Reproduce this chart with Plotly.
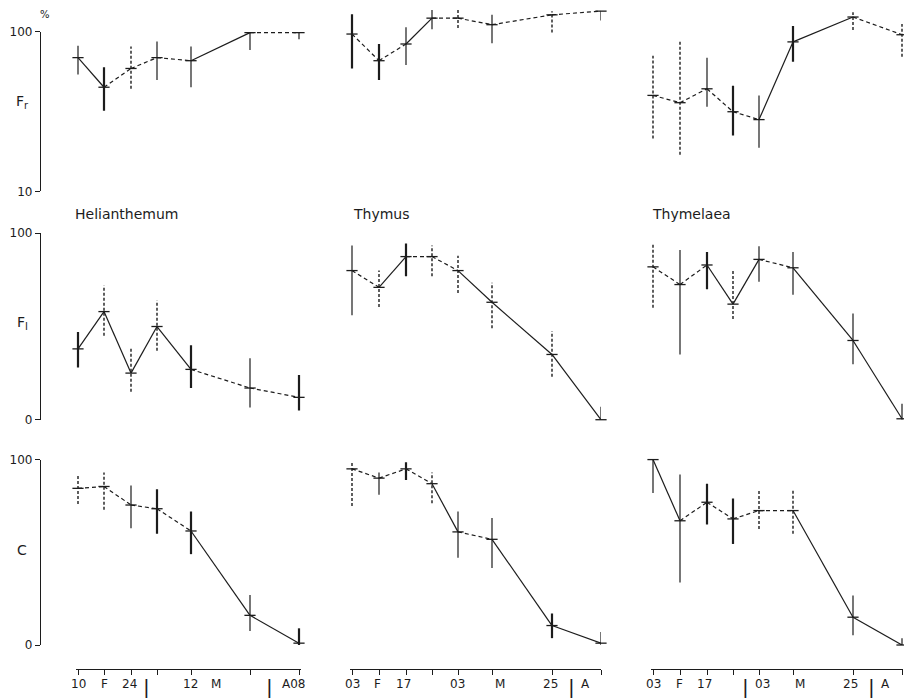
import plotly.graph_objects as go

W, H = 904, 698

# ---------------- data ----------------
# sampling positions along the time axis (axis units)
X_HELI = [0, 26, 53, 79, 113, 172, 221]
X_THYM = [0, 27, 54, 80, 106, 140, 200, 249]   # Thymus and Thymelaea share dates

# Helianthemum
FR_HELI = [69, 45, 59, 69, 66, 99, 99]
FR_HELI_HI = [82, 60, 81, 87, 81, 100, 99]
FR_HELI_LO = [54, 32, 44, 50, 45, 77, 90]
FI_HELI = [38, 58, 25, 50, 27, 17, 12]
FI_HELI_HI = [47, 72, 38, 64, 40, 33, 24]
FI_HELI_LO = [28, 45, 15, 37, 17, 6.5, 5]
C_HELI = [84.5, 85.5, 75.5, 73.5, 61.5, 16, 1]
C_HELI_HI = [92, 93, 86, 84, 72, 27, 9]
C_HELI_LO = [76, 73, 63, 60, 49, 7.5, 0]

# Thymus
FR_THYM = [97, 66, 84, 122, 122, 111, 128, 135]
FR_THYM_HI = [129, 84, 107, 137, 137, 128, 135, 135]
FR_THYM_LO = [59, 50, 62, 104, 106, 85, 99, 118]
FI_THYM = [80, 71, 87.5, 87.5, 80, 63, 35, 0]
FI_THYM_HI = [93.5, 80, 94.5, 93.5, 88, 73.5, 47.5, 7]
FI_THYM_LO = [56, 60.5, 77, 77, 68, 49, 23, 0]
C_THYM = [95, 90, 95, 87, 61, 57, 10.5, 1]
C_THYM_HI = [99, 93, 98.5, 93, 72, 68.5, 17, 7]
C_THYM_LO = [75, 81, 89, 76.5, 47, 41.5, 3.7, 0]

# Thymelaea
FR_THYL = [40, 36, 44, 31.6, 28.2, 86.6, 124, 96]
FR_THYL_HI = [71, 88, 69, 46, 40, 109, 133, 112]
FR_THYL_LO = [21.5, 17, 34, 22.4, 18.8, 65, 103, 70]
FI_THYL = [82, 72.5, 83, 62, 86, 81.5, 42.5, 0.5]
FI_THYL_HI = [94.5, 91, 90, 80, 93, 90, 57, 8.6]
FI_THYL_LO = [60, 35, 70, 54, 74, 67, 29.7, 0]
C_THYL = [100, 67, 77, 68, 72.5, 72.5, 15, 0]
C_THYL_HI = [100, 92, 87, 79, 83, 83.5, 26.7, 3.7]
C_THYL_LO = [82, 33.7, 65, 54.5, 62.6, 60, 5.3, 0]

# tick labels of the time axes
XLAB_HELI_POS = [0, 26, 51, 68, 112, 138, 191, 215]
XLAB_HELI_TXT = ["10", "F", "24", "|", "12", "M", "|", "A08"]
XLAB_THYM_POS = [0, 25, 51, 105, 148, 198, 219, 233]
XLAB_THYM_TXT = ["03", "F", "17", "03", "M", "25", "|", "A"]
XLAB_THYL_POS = [0, 26, 51, 92, 109, 147, 197, 218, 232]
XLAB_THYL_TXT = ["03", "F", "17", "|", "03", "M", "25", "|", "A"]

TAXA = ["Helianthemum", "Thymus", "Thymelaea"]
ROW_LABELS = ["F<sub>r</sub>", "F<sub>I</sub>", "C"]

# ---------------- styles (segment / error-bar line types) ----------------
SEG = {
    (0, 0): "sdddsd", (1, 0): "ssssdd", (2, 0): "ddddss",
    (0, 1): "ddsdddd", (1, 1): "dsddsss", (2, 1): "dddsdss",
    (0, 2): "ddddssd", (1, 2): "ddssdss", (2, 2): "sddddss",
}
EB = {
    (0, 0): "sSdssss", (1, 0): "SdddSsS", (2, 0): "ddsSSsS",
    (0, 1): "SSssdsds", (1, 1): "sdSdddds", (2, 1): "dsSdssSs",
    (0, 2): "ddsSsSdd", (1, 2): "dsSdssss", (2, 2): "ssSSddss",
}

INK = "#1c1c1c"
FONT = "DejaVu Sans"

SERIES = {
    (0, 0): (X_HELI, FR_HELI, FR_HELI_LO, FR_HELI_HI),
    (1, 0): (X_HELI, FI_HELI, FI_HELI_LO, FI_HELI_HI),
    (2, 0): (X_HELI, C_HELI, C_HELI_LO, C_HELI_HI),
    (0, 1): (X_THYM, FR_THYM, FR_THYM_LO, FR_THYM_HI),
    (1, 1): (X_THYM, FI_THYM, FI_THYM_LO, FI_THYM_HI),
    (2, 1): (X_THYM, C_THYM, C_THYM_LO, C_THYM_HI),
    (0, 2): (X_THYM, FR_THYL, FR_THYL_LO, FR_THYL_HI),
    (1, 2): (X_THYM, FI_THYL, FI_THYL_LO, FI_THYL_HI),
    (2, 2): (X_THYM, C_THYL, C_THYL_LO, C_THYL_HI),
}

# observed vertical mapping of the photographed page (offset, scale)
Y_OFF, Y_SCALE = 5.0, 0.983


def px_x(p):
    return p / W


def px_y(p):
    return 1 - ((p - Y_OFF) / Y_SCALE) / H


fig = go.Figure()


def ax_ids(k):
    return ("x" if k == 1 else f"x{k}"), ("y" if k == 1 else f"y{k}")


for (r, c), (xs, ys, lo, hi) in SERIES.items():
    k = r * 3 + c + 1
    xa, ya = ax_ids(k)
    seg = SEG[(r, c)]
    eb = EB[(r, c)]
    # connecting segments
    for style, dash in (("s", "solid"), ("d", "4px,3px")):
        sx, sy = [], []
        for i, s in enumerate(seg):
            if s == style:
                sx += [xs[i], xs[i + 1], None]
                sy += [ys[i], ys[i + 1], None]
        if sx:
            fig.add_trace(go.Scatter(x=sx, y=sy, mode="lines", xaxis=xa, yaxis=ya,
                                     line=dict(color=INK, width=1.2, dash=dash),
                                     hoverinfo="skip", showlegend=False))
    # error bars
    for style, width, dash in (("s", 1.2, "solid"), ("S", 2.2, "solid"), ("d", 1.4, "3px,2px")):
        ex, ey = [], []
        for i, s in enumerate(eb):
            if s == style:
                ex += [xs[i], xs[i], None]
                ey += [lo[i], hi[i], None]
        if ex:
            fig.add_trace(go.Scatter(x=ex, y=ey, mode="lines", xaxis=xa, yaxis=ya,
                                     line=dict(color=INK, width=width, dash=dash),
                                     hoverinfo="skip", showlegend=False))
    # point markers
    fig.add_trace(go.Scatter(x=xs, y=ys, mode="markers", xaxis=xa, yaxis=ya,
                             marker=dict(symbol="line-ew", size=8,
                                         line=dict(color=INK, width=1.3)),
                             cliponaxis=False, showlegend=False))

# ---------------- axes layout ----------------
COL_DOM = [(76, 301), (350, 601), (651, 903)]
COL_RANGE = [(-2, 223), (-2, 249), (-2, 250)]
XLABS = [(XLAB_HELI_POS, XLAB_HELI_TXT), (XLAB_THYM_POS, XLAB_THYM_TXT),
         (XLAB_THYL_POS, XLAB_THYL_TXT)]
XTICKS = [X_HELI, X_THYM, X_THYM]

layout = dict(width=W, height=H, autosize=False, paper_bgcolor="white", plot_bgcolor="white",
              margin=dict(l=0, r=0, t=0, b=0, pad=0), showlegend=False,
              font=dict(family=FONT, color=INK, size=11))
annotations = []

for r in range(3):
    for c in range(3):
        k = r * 3 + c + 1
        xkey = "xaxis" if k == 1 else f"xaxis{k}"
        ykey = "yaxis" if k == 1 else f"yaxis{k}"
        xa_, ya = ax_ids(k)
        d0, d1 = COL_DOM[c]
        xax = dict(domain=[px_x(d0), px_x(d1)], range=list(COL_RANGE[c]),
                   showgrid=False, zeroline=False, showticklabels=False, fixedrange=True)
        if r == 2:
            xax.update(anchor="free", position=px_y(669), showline=True, linecolor=INK,
                       linewidth=1.2, ticks="outside", ticklen=5, tickwidth=1.2,
                       tickcolor=INK, tickvals=XTICKS[c])
        else:
            xax.update(anchor=ya, showline=False, ticks="")
        layout[xkey] = xax

        if r == 0:
            top = 30 if c == 0 else 6
            yr = [1, 2] if c == 0 else [1, 2.15]
            yax = dict(type="log", range=yr, domain=[px_y(190), px_y(top)],
                       tickvals=[10, 100], ticktext=["10", "100"])
        elif r == 1:
            yax = dict(range=[0, 100], domain=[px_y(419), px_y(232)],
                       tickvals=[0, 100], ticktext=["0", "100"])
        else:
            yax = dict(range=[0, 100], domain=[px_y(645), px_y(459)],
                       tickvals=[0, 100], ticktext=["0", "100"])
        yax.update(showgrid=False, zeroline=False, fixedrange=True)
        if c == 0:
            yax.update(anchor="free", position=px_x(40), showline=True, linecolor=INK,
                       linewidth=1.2, ticks="outside", ticklen=5, tickwidth=1.2,
                       tickcolor=INK, tickfont=dict(size=12, family=FONT, color=INK))
        else:
            yax.update(anchor=xa_, showline=False, ticks="", showticklabels=False)
        layout[ykey] = yax

# time-axis labels
for c in range(3):
    xa = f"x{7 + c}"
    for pos, txt in zip(*XLABS[c]):
        bar = txt == "|"
        annotations.append(dict(x=pos, xref=xa, y=px_y(687 if bar else 684), yref="paper",
                                text=txt, showarrow=False, xanchor="center", yanchor="middle",
                                font=dict(size=20 if bar else 12, family=FONT, color=INK)))

# taxon titles
for c, name in enumerate(TAXA):
    left = [73, 351, 650][c]
    annotations.append(dict(x=px_x(left), y=px_y(213), xref="paper", yref="paper",
                            text=name, showarrow=False, xanchor="left", yanchor="middle",
                            font=dict(size=14, family=FONT, color=INK)))

# row labels
for r, lab in enumerate(ROW_LABELS):
    yy = [100, 322, 550][r]
    annotations.append(dict(x=px_x(22), y=px_y(yy), xref="paper", yref="paper",
                            text=lab, showarrow=False, xanchor="center", yanchor="middle",
                            font=dict(size=14, family=FONT, color=INK)))

annotations.append(dict(x=px_x(45), y=px_y(13), xref="paper", yref="paper", text="%",
                        showarrow=False, xanchor="center", yanchor="middle",
                        font=dict(size=10, family=FONT, color=INK)))

layout["annotations"] = annotations
fig.update_layout(**layout)

PAGE_FIX = (
    "var gd=document.getElementById('{plot_id}');"
    "var de=document.documentElement, b=document.body;"
    "de.style.margin='0';de.style.padding='0';de.style.overflow='hidden';"
    "b.style.margin='0';b.style.padding='0';b.style.overflow='hidden';"
    "gd.style.position='absolute';gd.style.left='0px';gd.style.top='0px';"
)
fig.write_html("out.html", config={"responsive": False, "displayModeBar": False},
               default_width="904px", default_height="698px", post_script=PAGE_FIX)
